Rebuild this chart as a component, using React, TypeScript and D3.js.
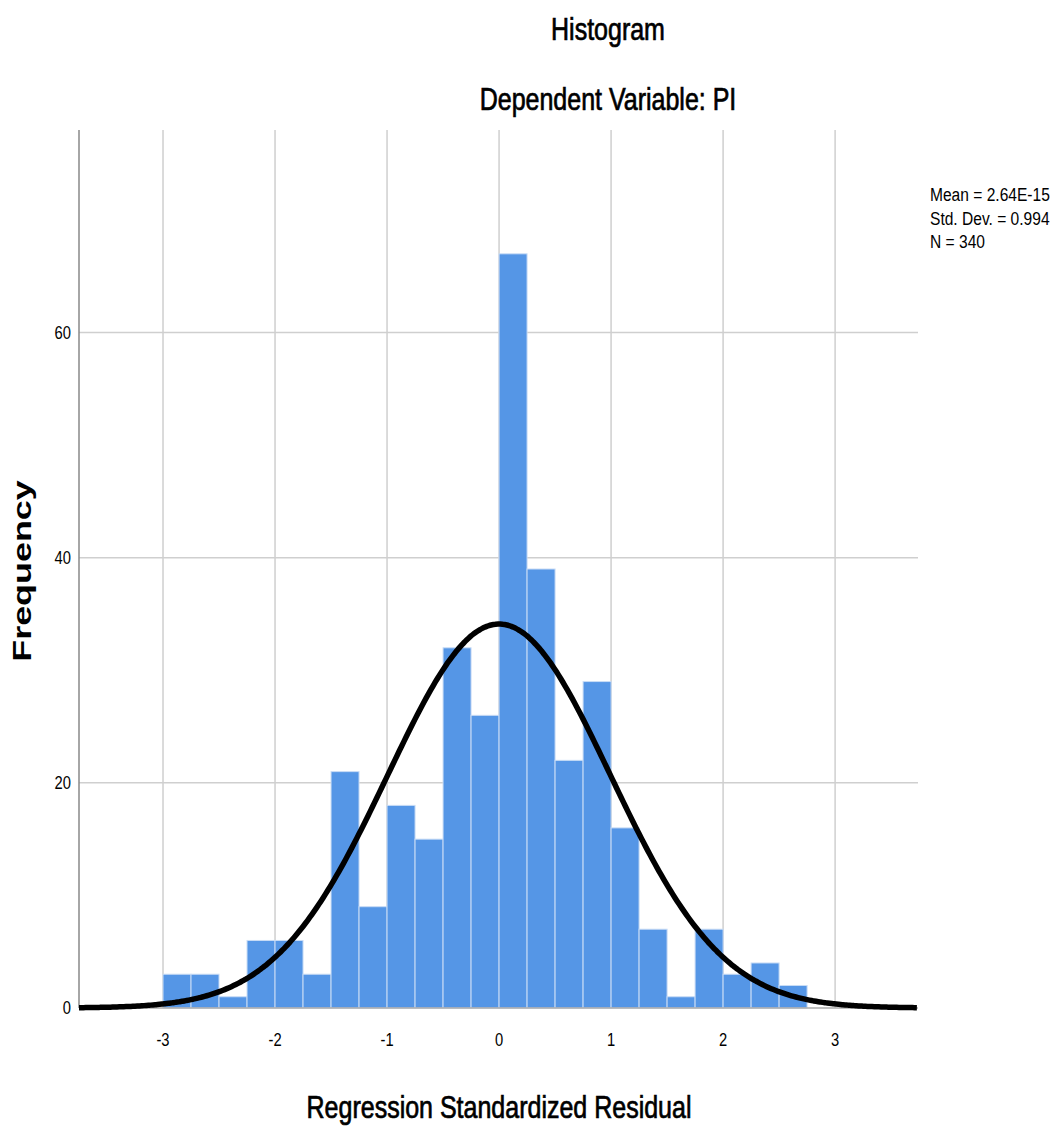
import * as d3 from "d3";
import React from "react";

// bins of width 0.25 starting at -3
const binStarts = [-3, -2.75, -2.5, -2.25, -2, -1.75, -1.5, -1.25, -1, -0.75, -0.5, -0.25, 0, 0.25, 0.5, 0.75, 1, 1.25, 1.5, 1.75, 2, 2.25, 2.5];
const counts = [3, 3, 1, 6, 6, 3, 21, 9, 18, 15, 32, 26, 67, 39, 22, 29, 16, 7, 1, 7, 3, 4, 2];
const xTicks = [-3, -2, -1, 0, 1, 2, 3];
const yTicks = [0, 20, 40, 60];
const statsLines = ["Mean = 2.64E-15", "Std. Dev. = 0.994", "N = 340"];

const binWidth = 0.25;
const mean = 2.64e-15;
const sd = 0.994;
const n = 340;

const W = 1056;
const H = 1128;
const left = 79;
const right = 918;
const top = 130;
const bottom = 1008;

const FONT = "'Liberation Sans', Arial, sans-serif";
const squeeze = 0.82;

function NarrowText(props: { x: number; y: number; size: number; anchor?: string; heavy?: boolean; children: string }) {
  const { x, y, size, anchor, heavy, children } = props;
  return (
    <text
      transform={`translate(${x},${y}) scale(${squeeze},1)`}
      fontFamily={FONT}
      fontSize={size}
      textAnchor={anchor || "start"}
      fill="#000"
      stroke={heavy ? "#000" : "none"}
      strokeWidth={heavy ? 0.7 : 0}
    >
      {children}
    </text>
  );
}

export default function App() {
  const x = d3.scaleLinear().domain([-3.75, 3.74]).range([left, right]);
  const y = d3.scaleLinear().domain([0, 78]).range([bottom, top]);

  const curvePts = d3.range(-3.75, 3.7401, 0.02).map((v) => [
    v,
    (n * binWidth * Math.exp(-0.5 * ((v - mean) / sd) ** 2)) / (sd * Math.sqrt(2 * Math.PI)),
  ]);
  const curve = d3
    .line<number[]>()
    .x((d) => x(d[0]))
    .y((d) => y(d[1]))
    .curve(d3.curveBasis);

  return (
    <svg width={W} height={H} style={{ position: "absolute", left: 0, top: 0, background: "#fff" }}>
      <rect width={W} height={H} fill="#fff" />
      {/* grid */}
      {xTicks.map((t) => (
        <line key={"gx" + t} x1={x(t)} x2={x(t)} y1={top} y2={bottom} stroke="#cfcfcf" strokeWidth={1.5} />
      ))}
      {yTicks.slice(1).map((t) => (
        <line key={"gy" + t} x1={left} x2={right} y1={y(t)} y2={y(t)} stroke="#cfcfcf" strokeWidth={1.5} />
      ))}
      {/* bars */}
      {binStarts.map((b, i) => (
        <rect
          key={"b" + i}
          x={x(b)}
          y={y(counts[i])}
          width={x(b + binWidth) - x(b)}
          height={y(0) - y(counts[i])}
          fill="#5596E6"
          stroke="#c9dcf5"
          strokeWidth={1}
        />
      ))}
      {/* axes */}
      <line x1={left} x2={left} y1={top} y2={bottom} stroke="#888" strokeWidth={1.5} />
      <line x1={left} x2={right} y1={bottom} y2={bottom} stroke="#aaa" strokeWidth={1.5} />
      {/* normal curve */}
      <path d={curve(curvePts) || ""} fill="none" stroke="#000" strokeWidth={5.5} />
      {/* tick labels */}
      {xTicks.map((t) => (
        <NarrowText key={"xt" + t} x={x(t)} y={bottom + 38} size={18} anchor="middle">
          {String(t)}
        </NarrowText>
      ))}
      {yTicks.map((t) => (
        <NarrowText key={"yt" + t} x={left - 8} y={y(t) + 6} size={18} anchor="end">
          {String(t)}
        </NarrowText>
      ))}
      {/* titles */}
      <NarrowText x={608} y={40} size={30.5} anchor="middle" heavy>Histogram</NarrowText>
      <NarrowText x={608} y={110} size={30.5} anchor="middle" heavy>Dependent Variable: PI</NarrowText>
      <NarrowText x={499} y={1118} size={30.5} anchor="middle" heavy>Regression Standardized Residual</NarrowText>
      <text
        transform={`translate(31,${571}) rotate(-90) scale(1.38,1)`}
        fontFamily={FONT}
        fontSize={26}
        fontWeight="bold"
        textAnchor="middle"
        fill="#000"
      >
        Frequency
      </text>
      {statsLines.map((s, i) => (
        <NarrowText key={"s" + i} x={930} y={201 + i * 23.5} size={19}>
          {s}
        </NarrowText>
      ))}
    </svg>
  );
}
